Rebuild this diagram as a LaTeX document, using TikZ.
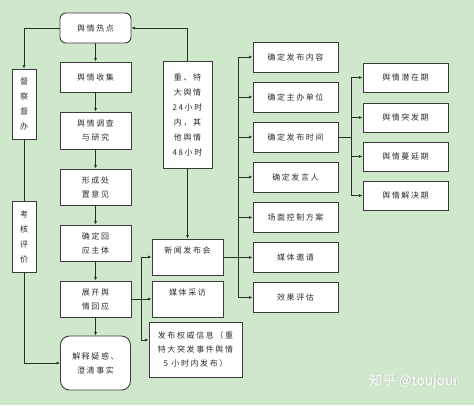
\documentclass[tikz,border=0pt]{standalone}
\usepackage{fontspec}
\setmainfont{Noto Sans CJK SC}
\newfontfamily\boxcjk[LetterSpace=20]{Noto Sans CJK SC}
\usetikzlibrary{arrows.meta}
\definecolor{bggreen}{RGB}{207,232,203}
\definecolor{linecol}{RGB}{40,48,40}
\definecolor{boxline}{RGB}{60,60,60}
\definecolor{txtcol}{RGB}{45,45,45}
\tikzset{
  box/.style={draw=boxline, fill=white, line width=0.9pt, inner sep=0pt, align=center,
    text=txtcol, font=\boxcjk\fontsize{8}{14}\selectfont},
  rbox/.style={box, rounded corners=6pt},
  vbox/.style={box, font=\boxcjk\fontsize{8}{15}\selectfont},
  arr/.style={-{Latex[length=3.5pt,width=3pt]}, line width=0.9pt, draw=linecol},
  ln/.style={line width=0.9pt, draw=linecol},
  wmark/.style={font=\fontsize{13.5}{13.5}\selectfont, anchor=center, inner sep=0pt},
}
\begin{document}
\begin{tikzpicture}[x=1pt,y=-1pt]
\fill[bggreen] (0,0) rectangle (474,405);
\useasboundingbox (0,0) rectangle (474,405);

% main column
\node[rbox, minimum width=71, minimum height=30] (hot) at (95.5,28) {舆情热点};
\node[box, minimum width=71, minimum height=30] (collect) at (95.5,77) {舆情收集};
\node[box, minimum width=71, minimum height=37] (survey) at (95.5,130.5) {舆情调查\\与研究};
\node[box, minimum width=71, minimum height=36] (form) at (95.5,187) {形成处\\置意见};
\node[box, minimum width=71, minimum height=36] (subject) at (95.5,243) {确定回\\应主体};
\node[box, minimum width=71, minimum height=36] (respond) at (95.5,299) {展开舆\\情回应};
\node[rbox, minimum width=70, minimum height=54, rounded corners=9pt] (explain) at (95.5,363) {解释疑惑、\\澄清事实};

% left column
\node[vbox, minimum width=24, minimum height=70] (supervise) at (24,104) {督\\察\\督\\办};
\node[vbox, minimum width=24, minimum height=71] (evaluate) at (24,236.5) {考\\核\\评\\价};

% time limit
\node[vbox, minimum width=49, minimum height=107] (limit) at (187.5,114.5) {重、特\\大舆情\\24小时\\内，其\\他舆情\\48小时};

% response channels
\node[box, minimum width=71, minimum height=36] (press) at (187.5,257) {新闻发布会\\\mbox{}};
\node[box, minimum width=71, minimum height=36] (media) at (187.5,299) {媒体采访\\\mbox{}};
\node[box, minimum width=93, minimum height=55] (auth) at (195.5,349.5) {发布权威信息（重\\特大突发事件舆情\\5 小时内发布）};

% press conference details
\node[box, minimum width=85, minimum height=30] (c1) at (295.5,57) {确定发布内容};
\node[box, minimum width=85, minimum height=30] (c2) at (295.5,97) {确定主办单位};
\node[box, minimum width=85, minimum height=30] (c3) at (295.5,137) {确定发布时间};
\node[box, minimum width=85, minimum height=30] (c4) at (295.5,177) {确定发言人};
\node[box, minimum width=85, minimum height=30] (c5) at (295.5,217.5) {场面控制方案};
\node[box, minimum width=85, minimum height=30] (c6) at (295.5,257.5) {媒体邀请};
\node[box, minimum width=85, minimum height=30] (c7) at (295.5,297.5) {效果评估};

% phases
\node[box, minimum width=85, minimum height=29] (p1) at (405.5,77.5) {舆情潜在期};
\node[box, minimum width=85, minimum height=29] (p2) at (405.5,117.5) {舆情突发期};
\node[box, minimum width=85, minimum height=29] (p3) at (405.5,156.5) {舆情蔓延期};
\node[box, minimum width=85, minimum height=29] (p4) at (405.5,195.5) {舆情解决期};

% watermark
\node[wmark, text=black!25] (wmshadow) at (414.8,381.8) {知乎 @toujour};
\node[wmark, text=white] (wm) at (414,381) {知乎 @toujour};

% trunk coordinates
\coordinate (t1) at (141,299);
\coordinate (t2) at (238,257);
\coordinate (t3) at (351,137);

% main chain
\draw[arr] (hot) -- (collect);
\draw[arr] (collect) -- (survey);
\draw[arr] (survey) -- (form);
\draw[arr] (form) -- (subject);
\draw[arr] (subject) -- (respond);
\draw[arr] (respond) -- (explain);

% left loop
\draw[arr] (hot.west) -| (supervise.north);
\draw[ln] (supervise.south) -- (evaluate.north);
\draw[arr] (evaluate.south) |- (explain.west);

% time limit
\draw[arr] (limit.north) |- (hot.east);
\draw[arr] (limit.south) -- (press.north);

% response branches
\draw[arr] (respond.east) -- (media.west);
\draw[arr] (t1) |- (press.west);
\draw[arr] (t1) |- ([yshift=9.5pt]auth.west);

% press conference branches
\draw[ln] (press.east) -- (t2);
\foreach \c in {c1,c2,c3,c4,c5,c6,c7} {\draw[arr] (t2) |- (\c.west);}

% phase branches
\draw[ln] (c3.east) -- (t3);
\foreach \p in {p1,p2,p3,p4} {\draw[arr] (t3) |- (\p.west);}
\end{tikzpicture}
\end{document}
